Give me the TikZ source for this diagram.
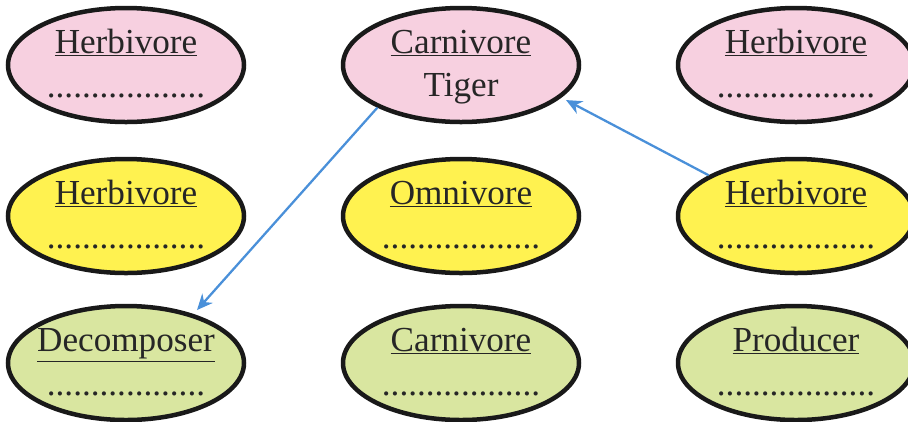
\documentclass[tikz,border=0pt]{standalone}
\usepackage{fontspec}
\setmainfont{Liberation Serif}
\usepackage{tikz}
\usetikzlibrary{shapes.geometric,arrows.meta,positioning}

\definecolor{pinkfill}{RGB}{247,208,224}
\definecolor{yellowfill}{RGB}{255,242,80}
\definecolor{greenfill}{RGB}{217,230,160}
\definecolor{arrowblue}{RGB}{74,144,217}

\begin{document}
\begin{tikzpicture}[
        box/.style={ellipse, draw=black!90, line width=0.09cm, minimum width=4.72cm, minimum height=2.28cm, inner sep=0pt},
        ttl/.style={anchor=base, font=\fontsize{20}{24}\selectfont, text=black!85, inner sep=0pt},
        link/.style={-{Stealth[length=9pt,width=8pt]}, arrowblue, line width=1.3pt, shorten >=3pt}]
        \useasboundingbox (0,0) rectangle (18.16,-8.42);
        % Row 1
        \node[box, fill=pinkfill]   (herbA)  at (2.52,-1.30)  {};
        \node[box, fill=pinkfill]   (tiger)  at (9.22,-1.30)  {};
        \node[box, fill=pinkfill]   (herbC)  at (15.92,-1.30) {};
        % Row 2
        \node[box, fill=yellowfill] (herbB)  at (2.52,-4.32)  {};
        \node[box, fill=yellowfill] (omni)   at (9.22,-4.32)  {};
        \node[box, fill=yellowfill] (herbD)  at (15.92,-4.32) {};
        % Row 3
        \node[box, fill=greenfill]  (decomp) at (2.52,-7.26)  {};
        \node[box, fill=greenfill]  (carn)   at (9.22,-7.26)  {};
        \node[box, fill=greenfill]  (prod)   at (15.92,-7.26) {};
        % Titles
        \node[ttl] (herbAt)  at ([yshift=0.24cm]herbA.center)  {\underline{Herbivore}};
        \node[ttl] (tigert)  at ([yshift=0.24cm]tiger.center)  {\underline{Carnivore}};
        \node[ttl] (herbCt)  at ([yshift=0.24cm]herbC.center)  {\underline{Herbivore}};
        \node[ttl] (herbBt)  at ([yshift=0.24cm]herbB.center)  {\underline{Herbivore}};
        \node[ttl] (omnit)   at ([yshift=0.24cm]omni.center)   {\underline{Omnivore}};
        \node[ttl] (herbDt)  at ([yshift=0.24cm]herbD.center)  {\underline{Herbivore}};
        \node[ttl] (decompt) at ([yshift=0.24cm]decomp.center) {\underline{Decomposer}};
        \node[ttl] (carnt)   at ([yshift=0.24cm]carn.center)   {\underline{Carnivore}};
        \node[ttl] (prodt)   at ([yshift=0.24cm]prod.center)   {\underline{Producer}};
        % Second lines
        \node[ttl] (herbAd)  at ([yshift=-0.64cm]herbA.center)  {..................};
        \node[ttl] (tigerd)  at ([yshift=-0.62cm]tiger.center)  {Tiger};
        \node[ttl] (herbCd)  at ([yshift=-0.64cm]herbC.center)  {..................};
        \node[ttl] (herbBd)  at ([yshift=-0.64cm]herbB.center)  {..................};
        \node[ttl] (omnid)   at ([yshift=-0.64cm]omni.center)   {..................};
        \node[ttl] (herbDd)  at ([yshift=-0.64cm]herbD.center)  {..................};
        \node[ttl] (decompd) at ([yshift=-0.64cm]decomp.center) {..................};
        \node[ttl] (carnd)   at ([yshift=-0.64cm]carn.center)   {..................};
        \node[ttl] (prodd)   at ([yshift=-0.64cm]prod.center)   {..................};
        % Arrows
        \draw[link] (tiger.207) -- (decomp.36);
        \draw[link] (herbD.155) -- (tiger.342);
    \end{tikzpicture}
\end{document}
